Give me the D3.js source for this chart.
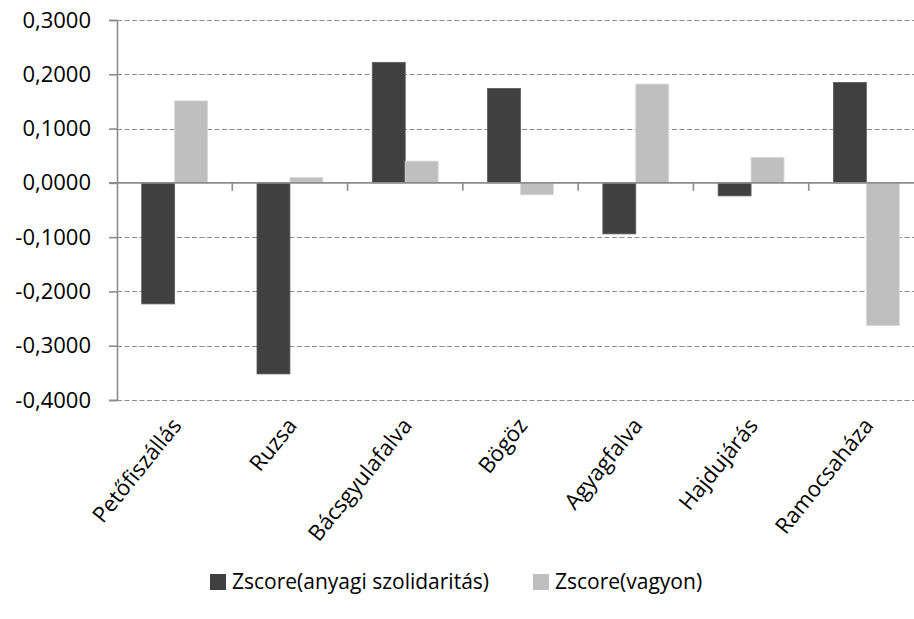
<!DOCTYPE html>
<html>
<head>
<meta charset="utf-8">
<script src="https://cdn.jsdelivr.net/npm/d3@7"></script>
<style>
	body { margin: 0; background: #fff; }
	svg { display: block; font-family: "Open Sans", sans-serif; }
</style>
</head>
<body>
<svg id="chart"></svg>
<script>
// chart data
var categories = ["Petőfiszállás", "Ruzsa", "Bácsgyulafalva", "Bögöz", "Agyagfalva", "Hajdujárás", "Ramocsaháza"];
var seriesNames = ["Zscore(anyagi szolidaritás)", "Zscore(vagyon)"];
var solidarity = [-0.223, -0.352, 0.222, 0.174, -0.094, -0.024, 0.185];
var wealth = [0.151, 0.010, 0.040, -0.022, 0.182, 0.047, -0.263];
var yTicks = [-0.4, -0.3, -0.2, -0.1, 0, 0.1, 0.2, 0.3];

var cfg = { width: 914, height: 619, left: 117, right: 924, top: 20, bottom: 400 };
var colors = ["#404040", "#bfbfbf"];
var strokes = ["#5c5c5c", "#d9d9d9"];

var rows = categories.map(function(c, i) {
	return { name: c, values: [solidarity[i], wealth[i]] };
});

var locale = d3.formatLocale({ decimal: ",", thousands: " ", grouping: [3], currency: ["", ""], minus: "-" });
var fmt = locale.format(".4f");

var svg = d3.select("#chart")
	.attr("width", cfg.width)
	.attr("height", cfg.height);

var y = d3.scaleLinear()
	.domain([-0.4, 0.3])
	.range([cfg.bottom, cfg.top]);

var x0 = d3.scaleBand()
	.domain(categories)
	.range([cfg.left, cfg.right]);

var x1 = d3.scaleBand()
	.domain([0, 1])
	.range([0, x0.bandwidth()])
	.paddingInner(0)
	.paddingOuter(0.75);

// dashed gridlines
svg.append("g")
	.selectAll("line")
	.data(yTicks.filter(function(t) { return t !== 0; }))
	.enter().append("line")
	.attr("x1", cfg.left)
	.attr("x2", cfg.right)
	.attr("y1", function(d) { return Math.round(y(d)) + 0.5; })
	.attr("y2", function(d) { return Math.round(y(d)) + 0.5; })
	.attr("stroke", "#8c8c8c")
	.attr("stroke-width", 1.2)
	.attr("stroke-dasharray", "5,2.5");

// bars
var group = svg.append("g")
	.selectAll("g")
	.data(rows)
	.enter().append("g")
	.attr("transform", function(d) { return "translate(" + x0(d.name) + ",0)"; });

group.selectAll("rect")
	.data(function(d) { return d.values; })
	.enter().append("rect")
	.attr("x", function(d, i) { return x1(i); })
	.attr("width", x1.bandwidth())
	.attr("y", function(d) { return y(Math.max(0, d)); })
	.attr("height", function(d) { return Math.abs(y(d) - y(0)); })
	.attr("fill", function(d, i) { return colors[i]; })
	.attr("stroke", function(d, i) { return strokes[i]; })
	.attr("stroke-width", 0.8);

// y axis
var yAxis = svg.append("g")
	.attr("transform", "translate(" + cfg.left + ",0)")
	.call(d3.axisLeft(y).tickValues(yTicks).tickFormat(fmt).tickSize(8).tickPadding(18));
yAxis.select(".domain").attr("stroke", "#8c8c8c").attr("stroke-width", 1.6);
yAxis.selectAll(".tick line").attr("stroke", "#8c8c8c").attr("stroke-width", 1.6);
yAxis.selectAll(".tick text")
	.attr("font-size", 22)
	.attr("fill", "#000")
	.attr("font-family", "Open Sans, sans-serif");

// category axis at zero
var xAxis = svg.append("g")
	.attr("transform", "translate(0," + y(0) + ")");
xAxis.append("line")
	.attr("x1", cfg.left - 8)
	.attr("x2", cfg.right)
	.attr("stroke", "#8c8c8c")
	.attr("stroke-width", 1.6);
xAxis.selectAll("line.tick")
	.data(categories.slice(1))
	.enter().append("line")
	.attr("class", "tick")
	.attr("x1", function(d) { return x0(d); })
	.attr("x2", function(d) { return x0(d); })
	.attr("y1", 0)
	.attr("y2", 8)
	.attr("stroke", "#8c8c8c")
	.attr("stroke-width", 1.6);

// rotated category labels
svg.append("g")
	.selectAll("text")
	.data(categories)
	.enter().append("text")
	.attr("transform", function(d) {
		return "translate(" + (x0(d) + x0.bandwidth() / 2 + 8) + "," + (cfg.bottom + 26) + ") rotate(-51)";
	})
	.attr("text-anchor", "end")
	.attr("font-size", 22)
	.text(function(d) { return d; });

// legend
var legendX = [210, 533];
var legend = svg.append("g")
	.selectAll("g")
	.data(seriesNames)
	.enter().append("g")
	.attr("transform", function(d, i) { return "translate(" + legendX[i] + ",574)"; });

legend.append("rect")
	.attr("width", 16)
	.attr("height", 16)
	.attr("fill", function(d, i) { return colors[i]; });

legend.append("text")
	.attr("x", 22)
	.attr("y", 15)
	.attr("font-size", 21)
	.text(function(d) { return d; });
</script>
</body>
</html>
